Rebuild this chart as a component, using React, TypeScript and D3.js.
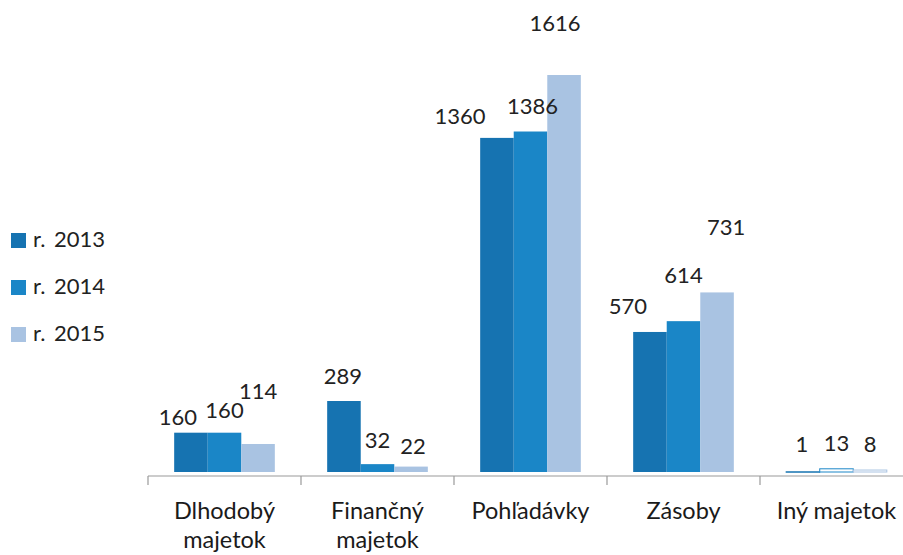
import React from "react";
import * as d3 from "d3";

const categories = ["Dlhodobý majetok", "Finančný majetok", "Pohľadávky", "Zásoby", "Iný majetok"];
const seriesNames = ["r. 2013", "r. 2014", "r. 2015"];
const values2013 = [160, 289, 1360, 570, 1];
const values2014 = [160, 32, 1386, 614, 13];
const values2015 = [114, 22, 1616, 731, 8];
const seriesValues = [values2013, values2014, values2015];
const colors = ["#1673b1", "#1a86c7", "#a9c3e2"];

// label offsets (dx, dy) relative to the top-center of each bar
const labelDx = [
  [-13, -1, -37, -22, -1],
  [0, 0, 2, 0, 0],
  [0, 2, -9, 9, 0],
];
const labelDy = [
  [-8, -17, -14, -18, -20],
  [-15, -16, -18, -38, -18],
  [-45, -13, -44, -57, -18],
];

const W = 903;
const H = 555;
const font = "Lato, 'Open Sans', sans-serif";

export default function App() {
  const x0 = d3.scaleBand<string>().domain(categories).range([148, 148 + 5 * 153]).paddingInner(0).paddingOuter(0);
  const x1 = d3.scaleBand<string>().domain(seriesNames).range([0, x0.bandwidth()]).paddingOuter(0.78).paddingInner(0);
  const y = d3.scaleLinear().domain([0, 1616]).range([472, 75]);
  const axisY = 476;

  const lines = (c: string) => {
    if (c === "Iný majetok") return [c];
    const parts = c.split(" ");
    return parts.length > 1 ? parts : [c];
  };

  return (
    <svg width={W} height={H} style={{ position: "absolute", left: 0, top: 0, background: "#fff" }} fontFamily={font}>
      {seriesNames.map((s, si) =>
        categories.map((c, ci) => {
          const v = seriesValues[si][ci];
          const bx = (x0(c) as number) + (x1(s) as number);
          const by = y(v);
          const h = Math.max(0.5, y(0) - by);
          const outline = v < 20;
          return (
            <rect
              key={s + c}
              x={bx}
              y={by}
              width={x1.bandwidth()}
              height={h}
              fill={outline ? "#ffffff" : colors[si]}
              stroke={outline ? colors[si] : "none"}
              strokeWidth={outline ? 1 : 0}
            />
          );
        })
      )}
      {seriesNames.map((s, si) =>
        categories.map((c, ci) => {
          const v = seriesValues[si][ci];
          const bx = (x0(c) as number) + (x1(s) as number) + x1.bandwidth() / 2;
          return (
            <text
              key={"l" + s + c}
              x={bx + labelDx[si][ci]}
              y={y(v) + labelDy[si][ci]}
              textAnchor="middle"
              fontSize={22}
              fill="#222"
            >
              {v}
            </text>
          );
        })
      )}
      <line x1={148} x2={W} y1={axisY} y2={axisY} stroke="#9a9a9a" strokeWidth={1.2} />
      {d3.range(0, 6).map((i) => (
        <line key={"t" + i} x1={148 + i * 153} x2={148 + i * 153} y1={axisY} y2={axisY + 9} stroke="#9a9a9a" strokeWidth={1.2} />
      ))}
      {categories.map((c) => {
        const cx = (x0(c) as number) + x0.bandwidth() / 2;
        return (
          <text key={"c" + c} x={cx} y={519} textAnchor="middle" fontSize={23.5} fill="#1a1a1a">
            {lines(c).map((ln, i) => (
              <tspan key={i} x={cx} dy={i === 0 ? 0 : 29}>
                {ln}
              </tspan>
            ))}
          </text>
        );
      })}
      {seriesNames.map((s, si) => (
        <g key={"lg" + s} transform={`translate(11, ${233 + si * 47})`}>
          <rect x={0} y={0} width={15} height={15} fill={colors[si]} />
          <text x={22} y={14} fontSize={22} fill="#222" style={{ wordSpacing: "3px" }}>
            {s}
          </text>
        </g>
      ))}
    </svg>
  );
}
